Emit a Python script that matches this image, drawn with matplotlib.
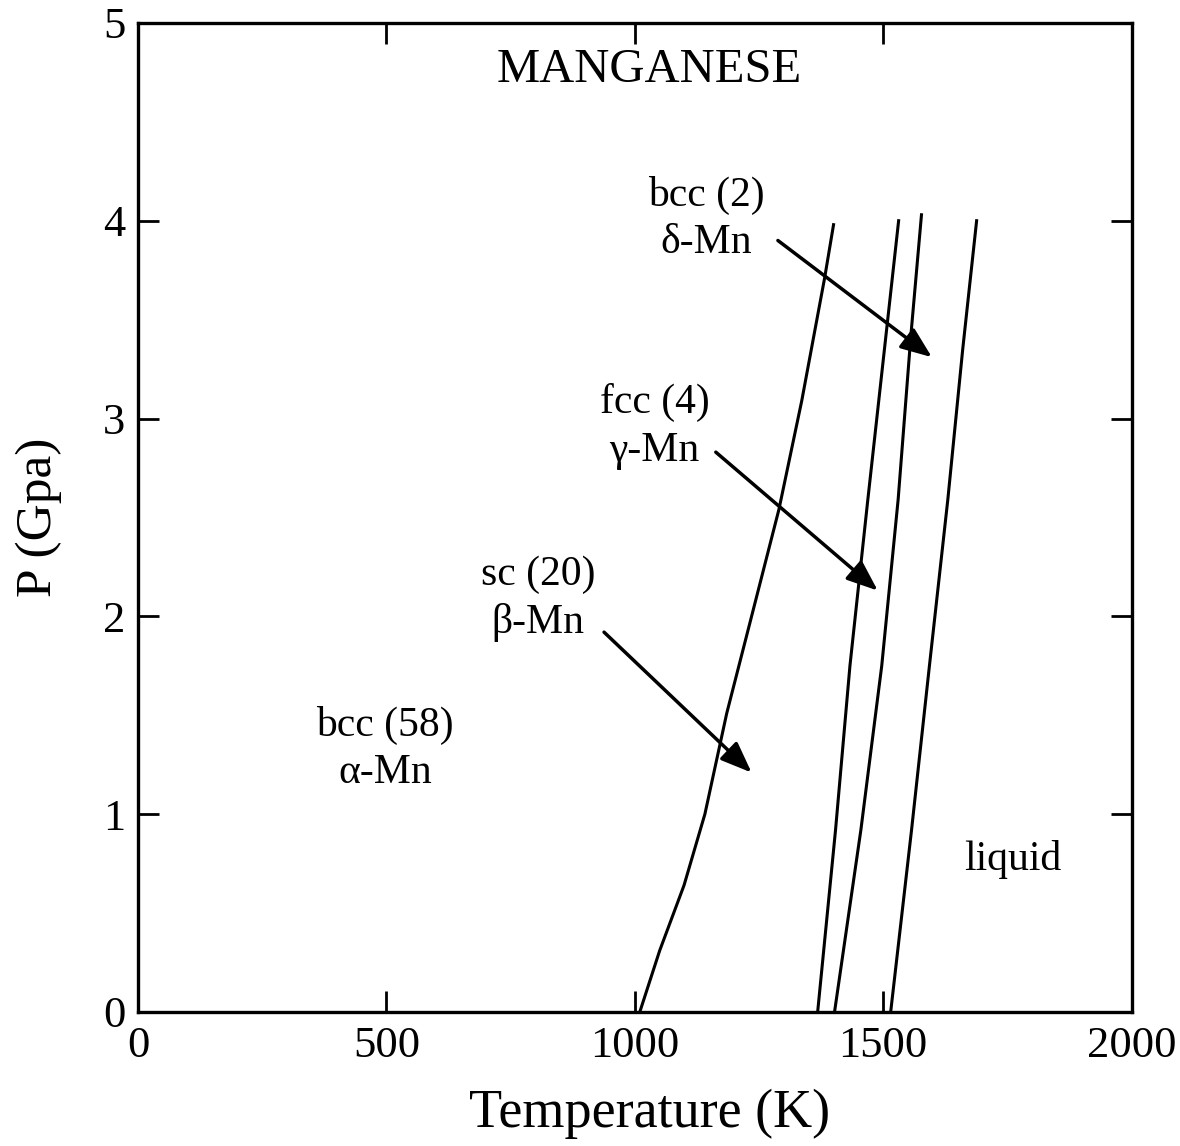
import numpy as np
import matplotlib
matplotlib.use("Agg")
import matplotlib.pyplot as plt

# phase boundaries (T in K, P in GPa)
alpha_beta_T = [1010, 1050, 1099, 1141, 1185, 1235, 1290, 1336, 1382, 1400]
alpha_beta_P = [0.0, 0.31, 0.64, 1.0, 1.51, 2.0, 2.54, 3.09, 3.71, 3.98]

beta_gamma_T = [1368, 1404, 1433, 1469, 1531]
beta_gamma_P = [0.0, 0.92, 1.75, 2.59, 4.0]

gamma_delta_T = [1402, 1455, 1497, 1530, 1556, 1577]
gamma_delta_P = [0.0, 0.92, 1.75, 2.59, 3.43, 4.03]

delta_liq_T = [1515, 1557, 1593, 1630, 1660, 1688]
delta_liq_P = [0.0, 0.92, 1.75, 2.59, 3.35, 4.0]

# phase labels: text, position, arrow tip (None = no arrow)
labels = ["bcc (2)\n\u03b4-Mn", "fcc (4)\n\u03b3-Mn", "sc (20)\n\u03b2-Mn", "bcc (58)\n\u03b1-Mn", "liquid"]
label_T = [1143, 1040, 805, 497, 1760]
label_P = [4.01, 2.96, 2.09, 1.33, 0.77]
arrow_start_T = [1288, 1163, 938, None, None]
arrow_start_P = [3.90, 2.83, 1.92, None, None]
arrow_tip_T = [1598, 1489, 1235, None, None]
arrow_tip_P = [3.31, 2.13, 1.21, None, None]

plt.rcParams["font.family"] = ["Liberation Serif", "DejaVu Serif"]

fig = plt.figure(figsize=(11.8, 11.46), dpi=100)
ax = fig.add_axes([0.117, 0.117, 0.842, 0.863])

for T, P in [(alpha_beta_T, alpha_beta_P), (beta_gamma_T, beta_gamma_P),
             (gamma_delta_T, gamma_delta_P), (delta_liq_T, delta_liq_P)]:
    ax.plot(T, P, color="black", lw=2.2, solid_joinstyle="round")

for i, txt in enumerate(labels):
    ax.text(label_T[i], label_P[i], txt, ha="center", va="center",
            fontsize=30, linespacing=1.3)
    if arrow_tip_T[i] is not None:
        ax.annotate("", xy=(arrow_tip_T[i], arrow_tip_P[i]),
                    xytext=(arrow_start_T[i], arrow_start_P[i]),
                    arrowprops=dict(arrowstyle="-|>,head_length=1.9,head_width=0.75",
                                    color="black", lw=2.5, shrinkA=0, shrinkB=0))

ax.text(1030, 4.76, "MANGANESE", ha="center", va="center", fontsize=35)

ax.set_xlim(0, 2000)
ax.set_ylim(0, 5)
ax.set_xticks([0, 500, 1000, 1500, 2000])
ax.set_yticks([0, 1, 2, 3, 4, 5])
ax.tick_params(direction="in", length=15, width=2, top=True, right=True,
               labelsize=32)
ax.tick_params(axis="x", pad=10)
ax.tick_params(axis="y", pad=9)
for s in ax.spines.values():
    s.set_linewidth(2.4)

ax.set_xlabel("Temperature (K)", fontsize=39)
ax.xaxis.set_label_coords(0.515, -0.077)
ax.xaxis.label.set_va("top")
ax.set_ylabel("P (Gpa)", fontsize=37, labelpad=30)

fig.savefig("out.png", dpi=100)
